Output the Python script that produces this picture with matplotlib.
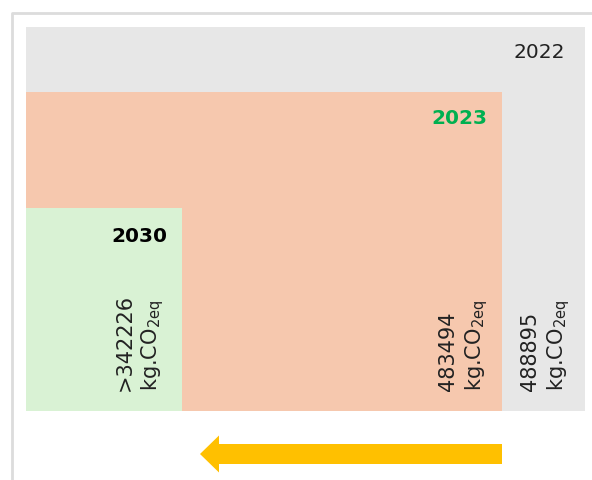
import matplotlib.pyplot as plt
from matplotlib.patches import Rectangle

# data
years = ['2022', '2023', '2030']
values = ['488895', '483494', '>342226']
unit = 'kg.CO$_\\mathregular{2eq}$'

# styles
box_colors = ['#e7e7e7', '#f6c8ae', '#d9f2d4']
year_colors = ['#222222', '#00b050', '#000000']
year_weights = ['normal', 'bold', 'bold']

# layout in pixels (left, top, right, bottom)
boxes = [(26, 27, 585, 411), (26, 92, 502, 411), (26, 208, 182, 411)]
year_pos = [(565, 52), (487, 118), (167, 237)]
value_x = [546, 464, 140]
value_bottom = 391

W, H = 592, 480
fig = plt.figure(figsize=(W / 100, H / 100), dpi=100)
ax = fig.add_axes([0, 0, 1, 1])
ax.set_xlim(0, W)
ax.set_ylim(H, 0)
ax.axis('off')

# outer frame (left and top edges visible)
ax.plot([11.5, 11.5, W], [H, 12.5, 12.5], color='#dcdcdc', lw=2, solid_capstyle='butt')

for (x0, y0, x1, y1), c in zip(boxes, box_colors):
    ax.add_patch(Rectangle((x0, y0), x1 - x0, y1 - y0, facecolor=c, edgecolor='none'))

for yr, (x, y), c, w in zip(years, year_pos, year_colors, year_weights):
    ax.text(x, y, yr, ha='right', va='center', fontsize=14.5, color=c,
            fontweight=w, family='DejaVu Sans')

for v, x in zip(values, value_x):
    ax.text(x, value_bottom, v + '\n' + unit, rotation=90, ha='center', va='bottom',
            multialignment='left', fontsize=15, color='#222222',
            family='DejaVu Sans', linespacing=1.25)

ax.arrow(502, 454, -302, 0, width=20, head_width=37, head_length=19,
         length_includes_head=True, color='#ffc000', lw=0)

fig.savefig('out.png', dpi=100)
